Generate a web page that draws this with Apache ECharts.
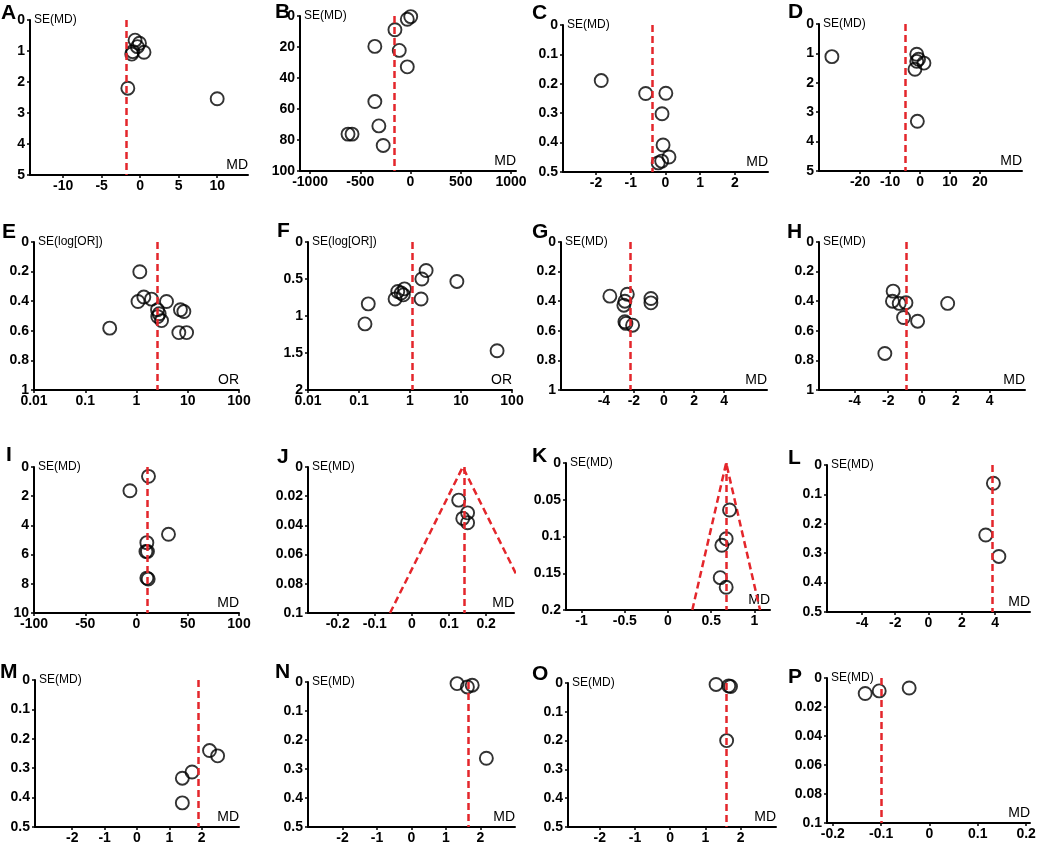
<!DOCTYPE html>
<html><head><meta charset="utf-8">
<script src="https://cdn.jsdelivr.net/npm/echarts@6/dist/echarts.min.js"></script>
<style>html,body{margin:0;padding:0;background:#fff}#c{width:1040px;height:845px}</style>
</head><body><div id="c"></div>
<script>
// ---------------- DATA ----------------
const panelLetters = ['A','B','C','D','E','F','G','H','I','J','K','L','M','N','O','P'];
const xNames = ['MD','MD','MD','MD','OR','OR','MD','MD','MD','MD','MD','MD','MD','MD','MD','MD'];
const yNames = ['SE(MD)','SE(MD)','SE(MD)','SE(MD)','SE(log[OR])','SE(log[OR])','SE(MD)','SE(MD)','SE(MD)','SE(MD)','SE(MD)','SE(MD)','SE(MD)','SE(MD)','SE(MD)','SE(MD)'];

const A_md = [-0.66, -0.09, -0.36, -0.96, -1.09, 0.5, -1.6, 10.0];
const A_se = [0.65, 0.75, 0.86, 1.02, 1.10, 1.04, 2.2, 2.54];
const B_md = [2, -32, -155, -355, -112, -32, -355, -315, -622, -582, -272];
const B_se = [0.4, 2.1, 8.9, 19.6, 22.2, 32.8, 55.2, 70.9, 76.2, 76.2, 83.5];
const C_md = [-1.85, -0.57, 0.01, -0.1, -0.07, 0.1, -0.11, -0.21];
const C_se = [0.189, 0.233, 0.232, 0.302, 0.408, 0.449, 0.463, 0.469];
const D_md = [-29.4, -1.1, -0.5, -1.1, 1.3, -1.7, -0.9];
const D_se = [1.11, 1.03, 1.2, 1.27, 1.33, 1.54, 3.31];
const E_or = [1.16, 1.07, 1.39, 1.96, 3.85, 2.57, 2.77, 2.6, 3.08, 7.2, 8.4, 6.7, 9.5, 0.30];
const E_se = [0.201, 0.402, 0.372, 0.386, 0.402, 0.458, 0.485, 0.504, 0.531, 0.458, 0.47, 0.612, 0.612, 0.582];
const F_or = [2.07, 1.71, 8.3, 0.78, 0.575, 0.67, 0.74, 0.51, 1.65, 0.152, 0.131, 51];
const F_se = [0.385, 0.50, 0.533, 0.633, 0.669, 0.69, 0.714, 0.77, 0.77, 0.836, 1.107, 1.469];
const G_md = [-3.6, -2.44, -2.6, -2.67, -0.87, -0.87, -2.6, -2.53, -2.09];
const G_se = [0.366, 0.353, 0.40, 0.427, 0.382, 0.411, 0.539, 0.55, 0.562];
const H_md = [-1.71, -1.75, -1.35, -0.95, -1.09, -0.26, 1.52, -2.2];
const H_se = [0.332, 0.40, 0.415, 0.41, 0.51, 0.535, 0.415, 0.753];
const I_md = [11.7, -6.4, 31.2, 10.1, 9.2, 10.7, 10.1, 11.4];
const I_se = [0.64, 1.63, 4.61, 5.18, 5.79, 5.79, 7.61, 7.67];
const J_md = [0.126, 0.15, 0.137, 0.15];
const J_se = [0.0227, 0.0314, 0.0352, 0.0382];
const K_md = [0.712, 0.673, 0.623, 0.604, 0.673];
const K_se = [0.064, 0.103, 0.112, 0.156, 0.169];
const L_md = [3.9, 3.44, 4.23];
const L_se = [0.062, 0.238, 0.311];
const M_md = [2.24, 2.49, 1.70, 1.40, 1.40];
const M_se = [0.24, 0.258, 0.313, 0.334, 0.418];
const N_md = [1.32, 1.62, 1.76, 2.17];
const N_se = [0.0055, 0.017, 0.011, 0.263];
const O_md = [1.30, 1.66, 1.71, 1.60];
const O_se = [0.005, 0.010, 0.012, 0.2];
const P_md = [-0.133, -0.104, -0.042];
const P_se = [0.0107, 0.0089, 0.0069];

const pooledEffect = [-1.83, -165, -0.37, -4.8, 2.5, 1.11, -2.25, -0.95, 10.7, 0.137, 0.673, 3.86, 1.88, 1.64, 1.60, -0.102];

const J_funnel_md = [-0.059, 0.137, 0.333];
const J_funnel_se = [0.1, 0, 0.1];
const K_funnel_md = [0.281, 0.673, 1.065];
const K_funnel_se = [0.2, 0, 0.2];

// x tick labels
const A_xTicks = [-10, -5, 0, 5, 10];
const B_xTicks = [-1000, -500, 0, 500, 1000];
const C_xTicks = [-2, -1, 0, 1, 2];
const D_xTicks = [-20, -10, 0, 10, 20];
const G_xTicks = [-4, -2, 0, 2, 4];
const I_xTicks = [-100, -50, 0, 50, 100];
const J_xTicks = [-0.2, -0.1, 0, 0.1, 0.2];
const K_xTicks = [-1, -0.5, 0, 0.5, 1];
const MNO_xTicks = [-2, -1, 0, 1, 2];
const P_xTicks = [-0.2, -0.1, 0, 0.1, 0.2];

// y axis: max and tick interval
const yMax = [5, 100, 0.5, 5, 1, 2, 1, 1, 10, 0.1, 0.2, 0.5, 0.5, 0.5, 0.5, 0.1];
const yInterval = [1, 20, 0.1, 1, 0.2, 0.5, 0.2, 0.2, 2, 0.02, 0.05, 0.1, 0.1, 0.1, 0.1, 0.02];

const xValues = [A_md, B_md, C_md, D_md, E_or, F_or, G_md, H_md, I_md, J_md, K_md, L_md, M_md, N_md, O_md, P_md];
const seValues = [A_se, B_se, C_se, D_se, E_se, F_se, G_se, H_se, I_se, J_se, K_se, L_se, M_se, N_se, O_se, P_se];
const xTicks = [A_xTicks, B_xTicks, C_xTicks, D_xTicks, null, null, G_xTicks, G_xTicks, I_xTicks, J_xTicks, K_xTicks, G_xTicks, MNO_xTicks, MNO_xTicks, MNO_xTicks, P_xTicks];

// ---------------- LAYOUT (style) ----------------
// [left, top, width, height, xMin, xMax]
const layout = [
  [30, 20, 218, 155, -14.3, 14.0],
  [300, 16, 216, 155, -1100, 1050],
  [563, 25, 205, 147, -2.95, 2.95],
  [819, 24, 203, 147, -33.7, 34],
  [34, 242, 205, 148, 0.01, 100],
  [308, 242, 204, 148, 0.01, 100],
  [561, 242, 206, 148, -6.85, 6.85],
  [819, 242, 206, 148, -6.1, 6.1],
  [34, 467, 205, 146, -100, 100],
  [308, 467, 206, 146, -0.28, 0.275],
  [566, 463, 204, 147, -1.18, 1.18],
  [827, 465, 203, 147, -6.1, 6.1],
  [35, 680, 204, 147, -3.15, 3.15],
  [308, 682, 207, 145, -3, 3],
  [568, 683, 208, 144, -2.9, 3.0],
  [827, 678, 203, 145, -0.212, 0.208]
];
const letterPos = [
  [1, 13], [275, 12], [532, 13], [788, 12],
  [2, 232], [277, 231], [532, 232], [787, 232],
  [6, 455], [277, 457], [532, 456], [788, 458],
  [0, 672], [275, 672], [532, 674], [788, 677]
];

const FONT = "'Liberation Sans', Arial, sans-serif";
const RED = '#e4262b';

const option = { animation: false, backgroundColor: '#fff', grid: [], xAxis: [], yAxis: [], series: [], graphic: [] };

panelLetters.forEach((L, i) => {
  const g = layout[i];
  const isLog = (i === 4 || i === 5);
  option.grid.push({ left: g[0], top: g[1], width: g[2], height: g[3], containLabel: false, outerBoundsMode: 'none' });
  const xa = {
    type: isLog ? 'log' : 'value', gridIndex: i, min: g[4], max: g[5],
    name: xNames[i], nameLocation: 'end', nameGap: 0,
    nameTextStyle: { fontSize: 14, color: '#000', fontFamily: FONT, align: 'right', verticalAlign: 'bottom', padding: [0, 0, 3, 0] },
    axisLine: { onZero: false, lineStyle: { color: '#000', width: 2 } },
    axisTick: { show: true, length: 3, lineStyle: { color: '#000', width: 1.5 } },
    axisLabel: { fontWeight: 'bold', fontSize: 14, color: '#000', fontFamily: FONT, margin: 4, showMinLabel: true, showMaxLabel: true, hideOverlap: false,
      formatter: v => String(+(+v).toPrecision(6)) },
    splitLine: { show: false }
  };
  if (isLog) { xa.logBase = 10; }
  else { xa.axisTick.customValues = xTicks[i]; xa.axisLabel.customValues = xTicks[i]; }
  option.xAxis.push(xa);
  option.yAxis.push({
    type: 'value', gridIndex: i, inverse: true, min: 0, max: yMax[i], interval: yInterval[i],
    name: yNames[i], nameLocation: 'start', nameGap: 0,
    nameTextStyle: { fontSize: 12, color: '#000', fontFamily: FONT, align: 'left', verticalAlign: 'middle', padding: [0, 0, 0, 4] },
    axisLine: { onZero: false, lineStyle: { color: '#000', width: 2 } },
    axisTick: { show: true, length: 3, lineStyle: { color: '#000', width: 1.5 } },
    axisLabel: { fontWeight: 'bold', fontSize: 14, color: '#000', fontFamily: FONT, margin: 5, showMinLabel: true, showMaxLabel: true },
    splitLine: { show: false }
  });
  option.series.push({
    type: 'scatter', xAxisIndex: i, yAxisIndex: i, z: 3,
    data: xValues[i].map((v, k) => [v, seValues[i][k]]),
    symbol: 'circle', symbolSize: 13,
    itemStyle: { color: 'rgba(0,0,0,0)', borderColor: '#000', borderWidth: 1.9 },
    emphasis: { disabled: true },
    markLine: {
      silent: true, symbol: ['none', 'none'], label: { show: false },
      lineStyle: { color: RED, width: 2.5, type: [7, 4] },
      data: [{ xAxis: pooledEffect[i] }]
    }
  });
  option.graphic.push({
    type: 'text', x: letterPos[i][0], y: letterPos[i][1],
    style: { text: L, fontSize: 21, fontWeight: 'bold', fontFamily: FONT, fill: '#000', align: 'left', verticalAlign: 'middle' }
  });
});

[[9, J_funnel_md, J_funnel_se], [10, K_funnel_md, K_funnel_se]].forEach(([i, xs, ys]) => {
  option.series.push({
    type: 'line', xAxisIndex: i, yAxisIndex: i, z: 2, clip: true,
    data: xs.map((v, k) => [v, ys[k]]), symbol: 'none',
    lineStyle: { color: RED, width: 2.5, type: [7, 4] },
    emphasis: { disabled: true }, silent: true
  });
});

const chart = echarts.init(document.getElementById('c'), null, { renderer: 'canvas' });
chart.setOption(option);
</script>
</body></html>
